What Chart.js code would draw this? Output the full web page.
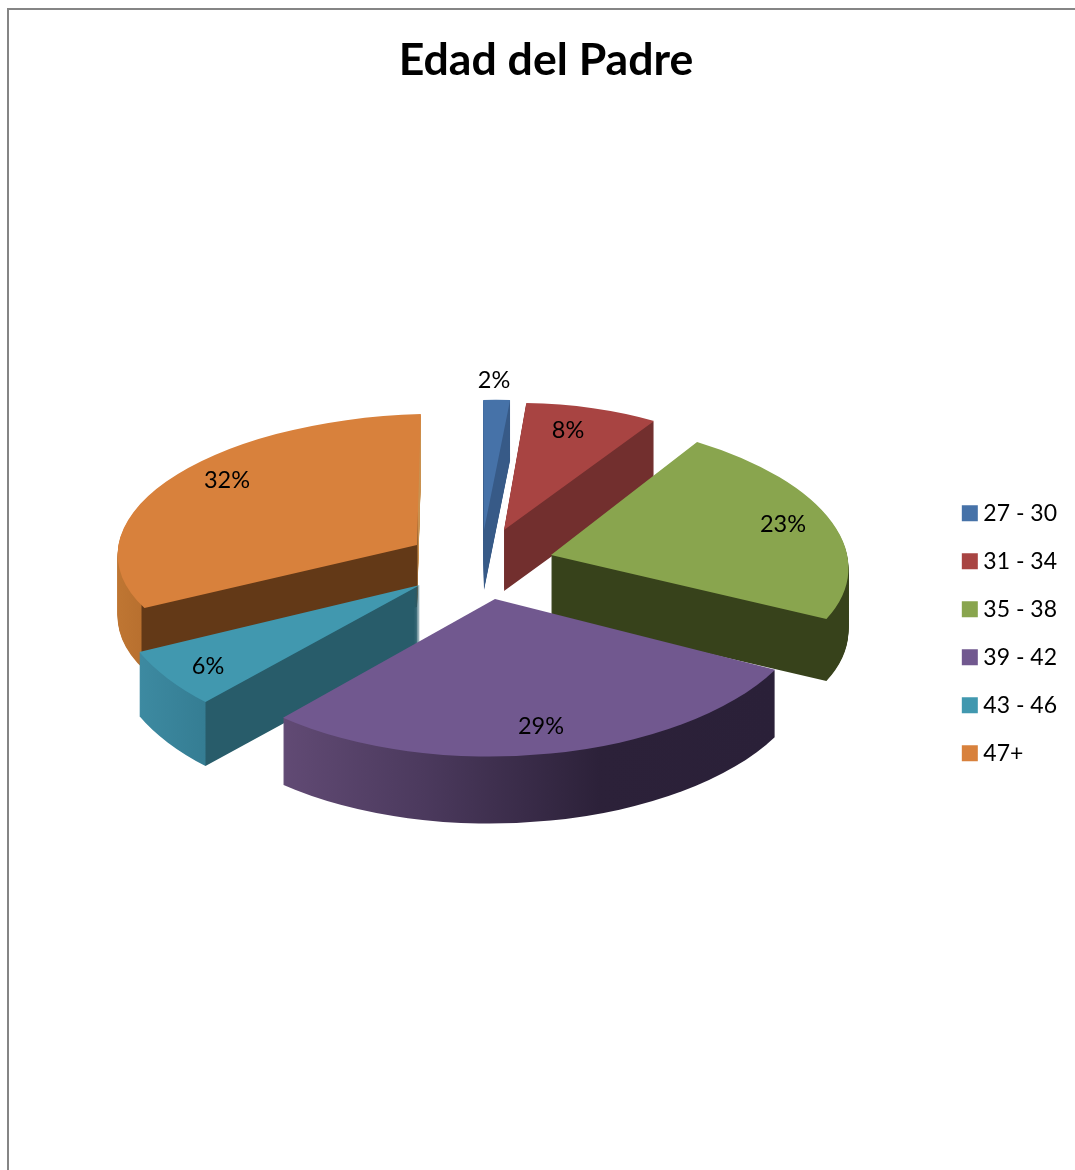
<!DOCTYPE html>
<html>
<head>
<meta charset="utf-8">
<title>Edad del Padre</title>
<script src="https://cdn.jsdelivr.net/npm/chart.js@4"></script>
<style>
  html, body { margin: 0; padding: 0; background: #fff; overflow: hidden; width: 1075px; height: 1170px; }
  #frame { position: absolute; left: 7px; top: 8px; width: 1068px; height: 1162px; border-left: 2px solid #858585; border-top: 2px solid #858585; overflow: hidden; }
  canvas { display: block; }
</style>
</head>
<body>
<div id="frame"><canvas id="pieChart" width="1074" height="1160"></canvas></div>
<script>
const categories = ['27 - 30', '31 - 34', '35 - 38', '39 - 42', '43 - 46', '47+'];
const percentages = [2, 8, 23, 29, 6, 32];
const sliceColors = ['#4672A8', '#A84442', '#89A54E', '#71588F', '#4198AF', '#D8813C'];

// look of the fake 3D: one affine view per slice, painted back to front
const canvasLeft = 9, canvasTop = 10;
const baseRadius = 297;
const wallDepths = [60, 61, 62, 67, 64, 62];
const paintOrder = [5, 0, 1, 2, 4, 3];
const sliceViews = [
  { x: 484, y: 530, a: 0.726, b: -0.024, c: 0.003, d: 0.438 },
  { x: 504, y: 530, a: 0.915, b: -0.038, c: 0.040, d: 0.426 },
  { x: 551, y: 555, a: 0.995, b: -0.009, c: 0.115, d: 0.464 },
  { x: 495, y: 599, a: 1.065, b: -0.020, c: 0.021, d: 0.530 },
  { x: 420, y: 585, a: 1.036, b: 0.009, c: -0.018, d: 0.549 },
  { x: 417, y: 545, a: 1.008, b: -0.027, c: -0.013, d: 0.441 }
];
// wall colours along screen x
const wallStops = [
  [[0, '#375A87'], [1080, '#375A87']],
  [[0, '#722F2E'], [1080, '#722F2E']],
  [[0, '#37421B'], [1080, '#37421B']],
  [[283, '#614A74'], [420, '#4C3A5E'], [600, '#2C2139'], [775, '#2A2038']],
  [[139, '#3D8AA1'], [205, '#357D93'], [206, '#285C6A'], [421, '#285C6A']],
  [[121, '#BE7532'], [141, '#B8702F'], [142, '#633917'], [417, '#633917'], [418, '#C9914F'], [425, '#C9914F']]
];
const labelSpots = [[494, 380], [568, 430], [783, 524], [541, 726], [208, 666], [227, 480]];

const pie3d = {
  id: 'pie3d',
  beforeDatasetsDraw(chart) {
    const ctx = chart.ctx;
    const arcs = chart.getDatasetMeta(0).data;
    ctx.save();
    ctx.translate(-canvasLeft, -canvasTop);

    const paintArc = (arc, v, shift, fill) => {
      const base = arc.options;
      arc.options = Object.assign(Object.create(base), { backgroundColor: fill, borderWidth: 0, offset: 0 });
      ctx.save();
      ctx.translate(0, shift);
      ctx.transform(v.a, v.b, v.c, v.d, v.x, v.y);
      ctx.translate(-arc.x, -arc.y);
      arc.draw(ctx);
      ctx.restore();
      arc.options = base;
    };

    paintOrder.forEach(i => {
      const arc = arcs[i];
      const k = baseRadius / arc.outerRadius;
      const v = { x: sliceViews[i].x, y: sliceViews[i].y, a: sliceViews[i].a * k, b: sliceViews[i].b * k, c: sliceViews[i].c * k, d: sliceViews[i].d * k };
      // user space point that lands on a given screen x, so the stops stay vertical on screen
      const n = v.a * v.a + v.c * v.c;
      const ux = sx => arc.x + v.a * (sx - v.x) / n;
      const uy = sx => arc.y + v.c * (sx - v.x) / n;
      const stops = wallStops[i];
      const x0 = stops[0][0], x1 = stops[stops.length - 1][0];
      const grad = ctx.createLinearGradient(ux(x0), uy(x0), ux(x1), uy(x1));
      stops.forEach(s => grad.addColorStop((s[0] - x0) / (x1 - x0), s[1]));
      for (let d = wallDepths[i]; d > 0; d--) paintArc(arc, v, d, grad);
      paintArc(arc, v, 0, sliceColors[i]);
    });

    ctx.fillStyle = '#000';
    ctx.font = '23.5px Lato';
    ctx.textAlign = 'center';
    ctx.textBaseline = 'middle';
    percentages.forEach((p, i) => ctx.fillText(p + '%', labelSpots[i][0], labelSpots[i][1]));
    ctx.restore();
    return false;
  }
};

window.addEventListener('DOMContentLoaded', () => {
  new Chart(document.getElementById('pieChart').getContext('2d'), {
    type: 'pie',
    data: {
      labels: categories,
      datasets: [{ data: percentages, backgroundColor: sliceColors, borderWidth: 0 }]
    },
    options: {
      responsive: false,
      animation: false,
      layout: { padding: { left: 16, right: 16, top: 0, bottom: 0 } },
      plugins: {
        tooltip: { enabled: false },
        title: {
          display: true,
          text: 'Edad del Padre',
          color: '#000',
          font: { family: 'Lato', size: 44.6, weight: 'bold' },
          padding: { top: 24, bottom: 9 }
        },
        legend: {
          position: 'right',
          fullSize: false,
          labels: {
            color: '#000',
            font: { family: 'Lato', size: 23 },
            usePointStyle: true,
            pointStyle: 'rect',
            boxWidth: 4,
            boxHeight: 16,
            padding: 25
          }
        }
      }
    },
    plugins: [pie3d]
  });
});
</script>
</body>
</html>
